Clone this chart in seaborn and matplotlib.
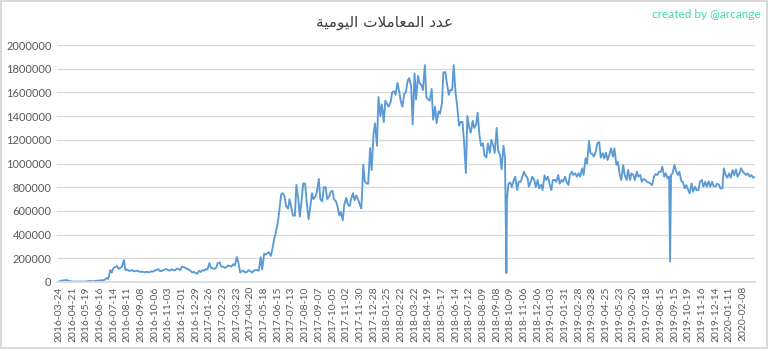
import matplotlib
matplotlib.use("Agg")
import matplotlib.pyplot as plt
import pandas as pd
import seaborn as sns

# ---------------- data ----------------
tick_labels = [
    "2016-03-24", "2016-04-21", "2016-05-19", "2016-06-16", "2016-07-14", "2016-08-11",
    "2016-09-08", "2016-10-06", "2016-11-03", "2016-12-01", "2016-12-29", "2017-01-26",
    "2017-02-23", "2017-03-23", "2017-04-20", "2017-05-18", "2017-06-15", "2017-07-13",
    "2017-08-10", "2017-09-07", "2017-10-05", "2017-11-02", "2017-11-30", "2017-12-28",
    "2018-01-25", "2018-02-22", "2018-03-22", "2018-04-19", "2018-05-17", "2018-06-14",
    "2018-07-12", "2018-08-09", "2018-09-08", "2018-10-09", "2018-11-06", "2018-12-06",
    "2019-01-03", "2019-01-31", "2019-02-28", "2019-03-28", "2019-04-25", "2019-05-23",
    "2019-06-20", "2019-07-18", "2019-08-15", "2019-09-15", "2019-10-19", "2019-11-16",
    "2019-12-14", "2020-01-11", "2020-02-08",
]

# readings at day 0, 7, 14, ... (day index counted from 2016-03-24)
weekly_tx = [
    5000, 12000, 15000, 8000,
    4000, 3000, 3000, 4000,
    5000, 8000, 6000, 10000,
    12000, 15000, 35000, 100000,
    120000, 135000, 120000, 185000,
    105000, 95000, 90000, 95000,
    85000, 80000, 85000, 90000,
    95000, 110000, 90000, 105000,
    100000, 108000, 100000, 110000,
    130000, 120000, 105000, 80000,
    75000, 95000, 100000, 110000,
    160000, 115000, 120000, 165000,
    130000, 125000, 135000, 150000,
    210000, 80000, 95000, 85000,
    90000, 95000, 100000, 210000,
    240000, 245000, 220000, 370000,
    500000, 740000, 720000, 620000,
    620000, 560000, 700000, 700000,
    830000, 530000, 750000, 720000,
    870000, 680000, 800000, 720000,
    770000, 680000, 560000, 520000,
    710000, 640000, 750000, 730000,
    650000, 990000, 830000, 1130000,
    1250000, 1150000, 1400000, 1350000,
    1500000, 1520000, 1610000, 1680000,
    1520000, 1590000, 1700000, 1650000,
    1760000, 1740000, 1660000, 1830000,
    1540000, 1630000, 1480000, 1440000,
    1510000, 1770000, 1580000, 1620000,
    1590000, 1320000, 1350000, 920000,
    1300000, 1360000, 1330000, 1230000,
    1170000, 1050000, 1090000, 1150000,
    1300000, 1070000, 1150000, 690000,
    840000, 860000, 776000, 846000,
    931000, 880000, 850000, 860000,
    860000, 820000, 900000, 889000,
    776000, 861000, 903000, 861000,
    889000, 818000, 931000, 917000,
    917000, 959000, 1044000, 1190000,
    1080000, 1100000, 1180000, 1086000,
    1090000, 1080000, 1058000, 990000,
    903000, 987000, 861000, 861000,
    903000, 931000, 903000, 870000,
    846000, 830000, 889000, 903000,
    930000, 889000, 875000, 903000,
    987000, 903000, 850000, 790000,
    776000, 832000, 804000, 776000,
    861000, 846000, 850000, 846000,
    805000, 820000, 790000, 900000,
    917000, 945000, 950000, 917000,
    931000, 903000, 889000, 880000,
]

# readings at day 3, 10, 17, ... (mid-week)
midweek_tx = [
    8000, 14000, 15000, 6000,
    3000, 3000, 4000, 3000,
    6000, 7000, 8000, 12000,
    14000, 20000, 25000, 80000,
    125000, 110000, 130000, 100000,
    95000, 100000, 92000, 88000,
    88000, 85000, 80000, 88000,
    100000, 95000, 100000, 110000,
    95000, 100000, 112000, 100000,
    125000, 110000, 95000, 85000,
    70000, 85000, 95000, 105000,
    120000, 110000, 160000, 130000,
    120000, 140000, 130000, 140000,
    170000, 90000, 80000, 100000,
    80000, 100000, 95000, 105000,
    230000, 250000, 280000, 420000,
    600000, 750000, 640000, 700000,
    560000, 820000, 551000, 833000,
    680000, 620000, 700000, 760000,
    700000, 800000, 700000, 760000,
    700000, 640000, 590000, 650000,
    660000, 700000, 690000, 700000,
    620000, 850000, 830000, 945000,
    1340000, 1560000, 1500000, 1530000,
    1480000, 1600000, 1580000, 1620000,
    1480000, 1600000, 1720000, 1330000,
    1540000, 1680000, 1620000, 1560000,
    1530000, 1370000, 1340000, 1420000,
    1770000, 1680000, 1620000, 1830000,
    1490000, 1350000, 1200000, 1400000,
    1260000, 1300000, 1430000, 1150000,
    1070000, 1170000, 1200000, 1090000,
    1110000, 950000, 1050000, 830000,
    800000, 889000, 846000, 880000,
    900000, 804000, 889000, 800000,
    790000, 776000, 860000, 830000,
    861000, 846000, 830000, 846000,
    846000, 903000, 903000, 889000,
    889000, 903000, 1000000, 1086000,
    1058000, 1170000, 1050000, 1044000,
    1030000, 1128000, 1128000, 1015000,
    861000, 903000, 945000, 917000,
    861000, 889000, 846000, 861000,
    840000, 818000, 910000, 930000,
    973000, 917000, 890000, 917000,
    940000, 931000, 846000, 818000,
    748000, 762000, 776000, 846000,
    804000, 804000, 804000, 810000,
    830000, 790000, 960000, 880000,
    880000, 903000, 889000, 960000,
    917000, 917000, 903000, 885000,
]

# single-day drops (day index, value)
spike_days = [916, 1251]
spike_tx = [75000, 172000]

y_ticks = [0, 200000, 400000, 600000, 800000, 1000000, 1200000,
           1400000, 1600000, 1800000, 2000000]

# Arabic title "عدد المعاملات اليومية" (presentation forms, visual order)
title_text = ("\ufe94\ufef4\ufee3\ufeee\ufef4\ufedf\ufe8d "
              "\ufe95\ufefc\ufee3\ufe8e\ufecc\ufee4\ufedf\ufe8d "
              "\ufea9\ufeaa\ufecb")
credit_text = "created by @arcange"

# ---------------- build frame ----------------
days = ([i * 7 for i in range(len(weekly_tx))]
        + [i * 7 + 3 for i in range(len(midweek_tx))]
        + spike_days)
values = weekly_tx + midweek_tx + spike_tx
df = pd.DataFrame({"day": days, "tx": values}).sort_values("day")

sns.set_theme(style="white")
plt.rcParams["font.family"] = ["Lato", "DejaVu Sans"]

fig = plt.figure(figsize=(7.68, 3.49), dpi=100)
fig.patch.set_facecolor("white")
fig.patch.set_edgecolor("#D9D9D9")
fig.patch.set_linewidth(1.5)

ax = fig.add_axes([0.0742, 0.192, 0.909, 0.679])
sns.lineplot(data=df, x="day", y="tx", ax=ax, color="#5B9BD5",
             linewidth=1.35, estimator=None)

ax.set_ylim(0, 2000000)
ax.set_yticks(y_ticks)
ax.set_yticklabels([str(v) for v in y_ticks])
ax.set_xticks([28 * i for i in range(len(tick_labels))])
ax.set_xticklabels(tick_labels, rotation=90)
ax.set_xlim(-4, 1425)
ax.set_xlabel("")
ax.set_ylabel("")

ax.yaxis.grid(True, color="#D9D9D9", linewidth=0.9)
ax.set_axisbelow(True)
for s in ["top", "right", "left"]:
    ax.spines[s].set_visible(False)
ax.spines["bottom"].set_color("#D9D9D9")
ax.tick_params(axis="both", colors="#595959", labelsize=8, length=0, pad=4)
ax.tick_params(axis="x", labelsize=7.5, pad=3)

fig.text(0.5, 1 - 22 / 349, title_text, ha="center", va="center",
         fontsize=11, color="#404040", family="DejaVu Sans")
fig.text(0.99, 1 - 14 / 349, credit_text, ha="right", va="center",
         fontsize=8.5, color="#3DDBA8")

fig.savefig("out.png", dpi=100, facecolor="white", edgecolor="#D9D9D9")
